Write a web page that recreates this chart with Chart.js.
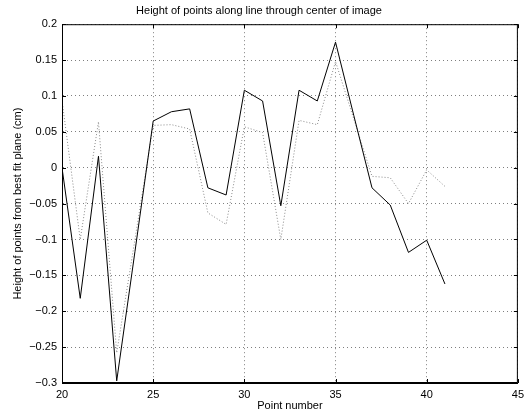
<!DOCTYPE html>
<html>
<head>
<meta charset="utf-8">
<script src="https://cdn.jsdelivr.net/npm/chart.js@4/dist/chart.umd.min.js"></script>
<style>
	html, body { margin: 0; padding: 0; background: #fff; }
	#grafico { display: block; }
</style>
</head>
<body>
<canvas id="grafico" width="529" height="414"></canvas>
<script>
var pontos = [20, 21, 22, 23, 24, 25, 26, 27, 28, 29, 30, 31, 32, 33, 34, 35, 36, 37, 38, 39, 40, 41];
var alturaSolida = [0.0, -0.182, 0.016, -0.297, -0.117, 0.065, 0.078, 0.082, -0.028, -0.038, 0.108, 0.093,
	-0.053, 0.108, 0.093, 0.175, 0.073, -0.028, -0.052, -0.118, -0.101, -0.162];
var alturaPontilhada = [0.094, -0.1, 0.064, -0.258, -0.1, 0.059, 0.06, 0.054, -0.063, -0.079, 0.057, 0.049,
	-0.1, 0.066, 0.06, 0.148, 0.068, -0.012, -0.014, -0.05, -0.003, -0.026];
var ticksX = [20, 25, 30, 35, 40, 45];
var ticksY = [-0.3, -0.25, -0.2, -0.15, -0.1, -0.05, 0, 0.05, 0.1, 0.15, 0.2];

var fonte = { family: "'Liberation Sans', Arial, Helvetica, sans-serif", size: 11, weight: 'normal' };

function paraPontos(ys) {
	return pontos.map(function(x, i) { return { x: x, y: ys[i] }; });
}

function formatar(v) {
	var s = String(Number(v.toFixed(2)));
	return s.replace('-', '\u2212');
}

// caixa e marcas internas, como no matlab
var caixa = {
	id: 'caixa',
	afterDraw: function(chart) {
		var ctx = chart.ctx, a = chart.chartArea;
		var sx = chart.scales.x, sy = chart.scales.y;
		ctx.save();
		ctx.strokeStyle = '#000';
		ctx.lineWidth = 1;
		ctx.strokeRect(a.left + 0.5, a.top + 0.5, a.right - a.left - 1, a.bottom - a.top - 1);
		ctx.beginPath();
		ticksX.forEach(function(t) {
			var px = Math.round(sx.getPixelForValue(t)) + 0.5;
			ctx.moveTo(px, a.bottom); ctx.lineTo(px, a.bottom - 4);
			ctx.moveTo(px, a.top); ctx.lineTo(px, a.top + 4);
		});
		ticksY.forEach(function(t) {
			var py = Math.round(sy.getPixelForValue(t)) + 0.5;
			ctx.moveTo(a.left, py); ctx.lineTo(a.left + 4, py);
			ctx.moveTo(a.right, py); ctx.lineTo(a.right - 4, py);
		});
		ctx.stroke();
		ctx.restore();
	}
};

var grafico = new Chart(document.getElementById('grafico').getContext('2d'), {
	type: 'line',
	data: {
		datasets: [{
			label: 'solida',
			data: paraPontos(alturaSolida),
			borderColor: '#000',
			borderWidth: 1,
			pointRadius: 0,
			tension: 0
		},
		{
			label: 'pontilhada',
			data: paraPontos(alturaPontilhada),
			borderColor: '#8a8a8a',
			borderWidth: 1,
			borderDash: [1, 2],
			pointRadius: 0,
			tension: 0
		}]
	},
	options: {
		responsive: false,
		animation: false,
		layout: { padding: { left: 0, right: 11, top: 0, bottom: 0 } },
		plugins: {
			legend: { display: false },
			tooltip: { enabled: false },
			title: {
				display: true,
				text: 'Height of points along line through center of image',
				color: '#000',
				font: fonte,
				padding: { top: 4, bottom: 7 }
			}
		},
		scales: {
			x: {
				type: 'linear',
				min: 20,
				max: 45,
				afterBuildTicks: function(scale) {
					scale.ticks = ticksX.map(function(v) { return { value: v }; });
				},
				afterFit: function(scale) { scale.height = 31; },
				grid: { color: 'rgba(0,0,0,0.5)', drawTicks: false },
				border: { display: true, color: '#000', width: 1, dash: [1, 3] },
				ticks: { color: '#000', font: fonte, padding: 5, maxRotation: 0 },
				title: { display: true, text: 'Point number', color: '#000', font: fonte, padding: { top: 0, bottom: 1 } }
			},
			y: {
				min: -0.3,
				max: 0.2,
				afterBuildTicks: function(scale) {
					scale.ticks = ticksY.map(function(v) { return { value: v }; });
				},
				afterFit: function(scale) { scale.width = 62; },
				grid: { color: 'rgba(0,0,0,0.5)', drawTicks: false },
				border: { display: true, color: '#000', width: 1, dash: [1, 3] },
				ticks: { color: '#000', font: fonte, padding: 5, callback: formatar },
				title: { display: true, text: 'Height of points from best fit plane (cm)', color: '#000', font: fonte, padding: { top: 11, bottom: 0 } }
			}
		}
	},
	plugins: [caixa]
});
</script>
</body>
</html>
